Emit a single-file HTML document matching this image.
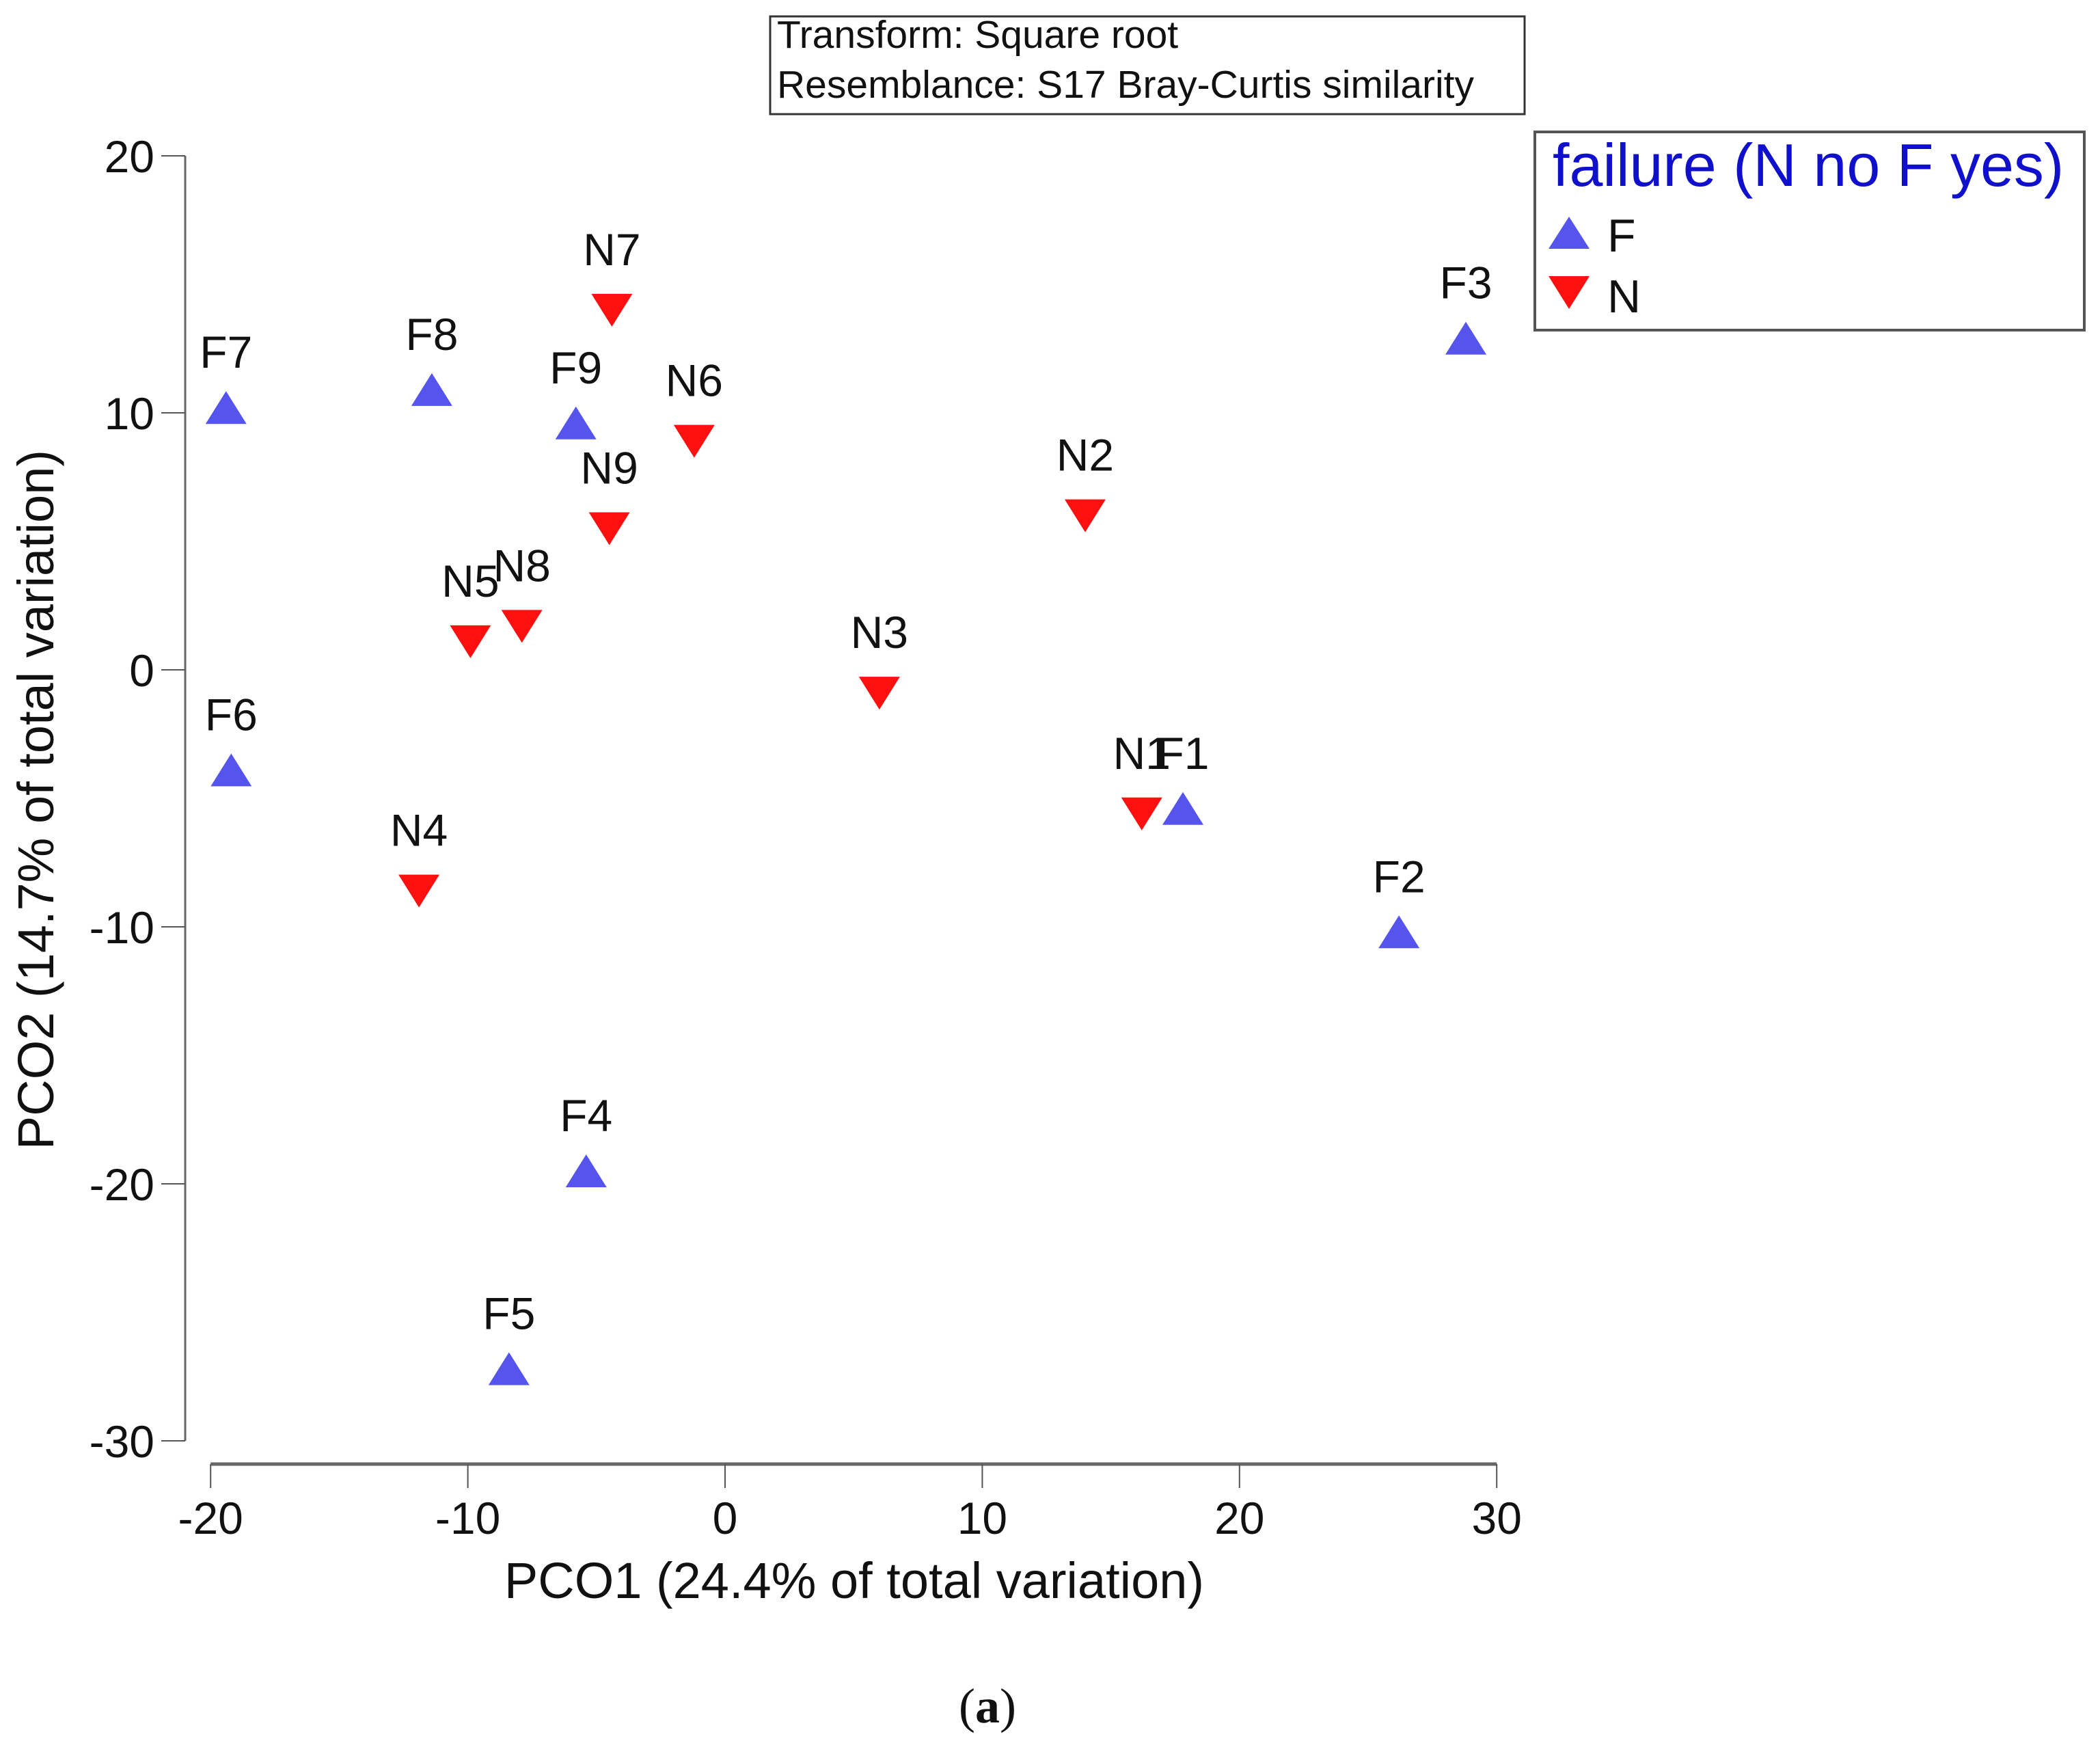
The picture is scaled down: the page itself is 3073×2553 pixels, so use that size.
<!DOCTYPE html>
<html><head><meta charset="utf-8"><style>
html,body{margin:0;padding:0;background:#fff;}
svg{display:block;font-family:"Liberation Sans",sans-serif;}
</style></head><body>
<svg id="chart" width="3073" height="2553" viewBox="0 0 3073 2553">
<g>
<rect x="1127" y="24" width="1104" height="143" fill="#fff" stroke="#333" stroke-width="3"/>
<text x="1137" y="70" font-size="57" fill="#111">Transform: Square root</text>
<text x="1137" y="143" font-size="57" fill="#111">Resemblance: S17 Bray-Curtis similarity</text>
</g>
<g>
<rect x="2246" y="193" width="804" height="290" fill="#fff" stroke="#555" stroke-width="4"/>
<text x="2272" y="272" font-size="88" fill="#1010cc">failure (N no F yes)</text>
<polygon points="2296,317 2266,364 2326,364" fill="#5555ee"/>
<text x="2352" y="368" font-size="68" fill="#111">F</text>
<polygon points="2266,404 2326,404 2296,452" fill="#ff1010"/>
<text x="2352" y="457" font-size="68" fill="#111">N</text>
</g>
<g id="axes"></g>
<g id="points"></g>
<text x="1250" y="2338" font-size="74" fill="#111" text-anchor="middle">PCO1 (24.4% of total variation)</text>
<text transform="translate(78,1170) rotate(-90)" font-size="74" fill="#111" text-anchor="middle">PCO2 (14.7% of total variation)</text>
<text x="1445" y="2520" font-size="72" fill="#111" text-anchor="middle" font-family="Liberation Serif, serif">(<tspan font-weight="bold">a</tspan>)</text>
</svg>
<script>
const xTicks = [-20, -10, 0, 10, 20, 30];
const yTicks = [20, 10, 0, -10, -20, -30];
const fLabels = ["F1","F2","F3","F4","F5","F6","F7","F8","F9"];
const fX = [17.8, 26.2, 28.8, -5.4, -8.4, -19.2, -19.4, -11.4, -5.8];
const fY = [-5.5, -10.3, 12.8, -19.6, -27.3, -4.0, 10.1, 10.8, 9.5];
const nLabels = ["N1","N2","N3","N4","N5","N6","N7","N8","N9"];
const nX = [16.2, 14.0, 6.0, -11.9, -9.9, -1.2, -4.4, -7.9, -4.5];
const nY = [-5.5, 6.1, -0.8, -8.5, 1.2, 9.0, 14.1, 1.8, 5.6];

const NS = "http://www.w3.org/2000/svg";
function sx(v){ return 1061 + v * 37.64; }
function sy(v){ return 980 - v * 37.6; }
function mk(tag, attrs, parent){
  const e = document.createElementNS(NS, tag);
  for (const k in attrs) e.setAttribute(k, attrs[k]);
  parent.appendChild(e); return e;
}
const axes = document.getElementById('axes');
const pts = document.getElementById('points');

const xl = mk('line', {x1: sx(-20), x2: sx(30), y1: 2142, y2: 2142, stroke: '#666', 'stroke-width': 5}, axes);


const yl = mk('line', {x1: 271, x2: 271, y1: sy(20), y2: sy(-30), stroke: '#666', 'stroke-width': 3}, axes);



xTicks.forEach(t => {
  const l = mk('line', {x1: sx(t), x2: sx(t), y1: 2142, y2: 2177, stroke: '#555', 'stroke-width': 2}, axes);
  
  
  const tx = mk('text', {x: sx(t), y: 2244, 'font-size': 66, fill: '#111', 'text-anchor': 'middle'}, axes);
  tx.textContent = t;
  
  
});
yTicks.forEach(t => {
  const l = mk('line', {x1: 236, x2: 271, y1: sy(t), y2: sy(t), stroke: '#555', 'stroke-width': 2}, axes);
  
  
  const tx = mk('text', {x: 226, y: sy(t) + 24, 'font-size': 66, fill: '#111', 'text-anchor': 'end'}, axes);
  tx.textContent = t;
  
  
});

fLabels.forEach((lab, i) => {
  const cx = sx(fX[i]), cy = sy(fY[i]);
  const p = mk('polygon', {points: `${cx},${cy-28} ${cx-30},${cy+20} ${cx+30},${cy+20}`, fill: '#5555ee'}, pts);
  
  
  const t = mk('text', {x: cx, y: cy - 62, 'font-size': 66, fill: '#111', 'text-anchor': 'middle'}, pts);
  t.textContent = lab;
  
  
});
nLabels.forEach((lab, i) => {
  const cx = sx(nX[i]), cy = sy(nY[i]);
  const p = mk('polygon', {points: `${cx-30},${cy-20} ${cx+30},${cy-20} ${cx},${cy+28}`, fill: '#ff1010'}, pts);
  
  
  const t = mk('text', {x: cx, y: cy - 62, 'font-size': 66, fill: '#111', 'text-anchor': 'middle'}, pts);
  t.textContent = lab;
  
  
});
</script>
</body></html>
